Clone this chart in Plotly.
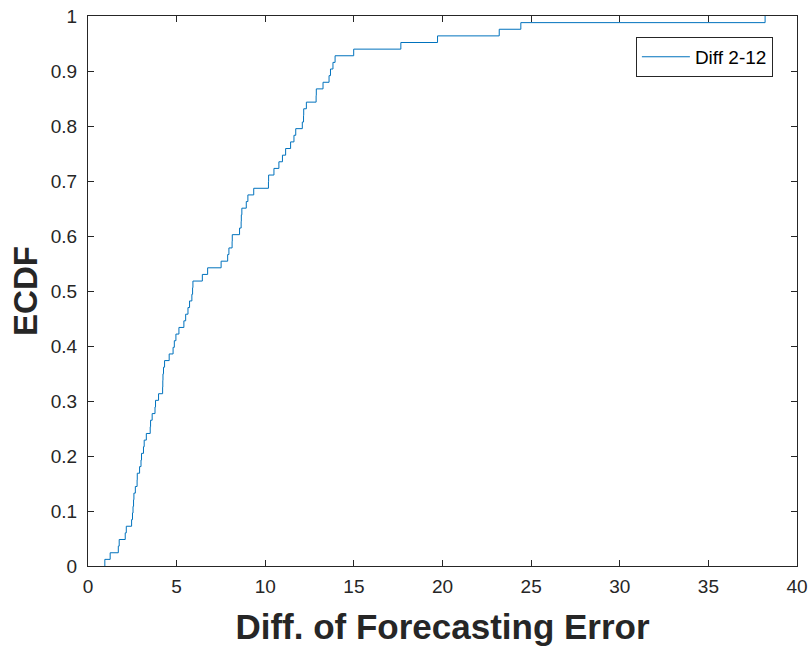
import numpy as np
import plotly.graph_objects as go

# Sorted sample values (difference of forecasting error), read from the ECDF steps
error_values = [
    0.95, 1.25, 1.71, 1.76, 2.10, 2.16, 2.46, 2.51, 2.54, 2.57,
    2.59, 2.67, 2.77, 2.78, 2.91, 2.99, 3.02, 3.13, 3.17, 3.29,
    3.51, 3.53, 3.62, 3.78, 3.81, 3.98, 4.21, 4.22, 4.23, 4.26,
    4.32, 4.58, 4.80, 4.87, 4.96, 5.13, 5.41, 5.51, 5.64, 5.73,
    5.86, 5.90, 5.92, 6.45, 6.75, 7.51, 7.88, 7.95, 8.13, 8.14,
    8.55, 8.64, 8.65, 8.68, 8.93, 9.02, 9.35, 10.18, 10.19, 10.49,
    10.77, 10.97, 11.15, 11.43, 11.62, 11.72, 12.09, 12.16, 12.17, 12.32,
    12.87, 12.88, 13.26, 13.60, 13.68, 13.82, 13.94, 14.99, 17.65, 19.72,
    23.20, 24.42, 38.20,
]
x_ticks = [0, 5, 10, 15, 20, 25, 30, 35, 40]
y_ticks = [0, 0.1, 0.2, 0.3, 0.4, 0.5, 0.6, 0.7, 0.8, 0.9, 1]
y_tick_labels = ["0", "0.1", "0.2", "0.3", "0.4", "0.5", "0.6", "0.7", "0.8", "0.9", "1"]
series_name = "Diff 2-12"

vals = np.sort(np.array(error_values))
n = len(vals)
ecdf = np.arange(1, n + 1) / n
xs = np.concatenate([[vals[0]], vals])
ys = np.concatenate([[0.0], ecdf])

font_family = "Arial, Liberation Sans, Helvetica, sans-serif"
axis_color = "#262626"

fig = go.Figure()
fig.add_trace(go.Scatter(
    x=xs, y=ys, mode="lines", name=series_name,
    line=dict(color="#0072BD", width=1, shape="hv"),
    showlegend=True,
))

common_axis = dict(
    showline=True, linecolor=axis_color, linewidth=1, mirror="ticks",
    ticks="inside", ticklen=6, tickcolor=axis_color, tickwidth=1,
    showgrid=False, zeroline=False, automargin=False,
    ticklabeloverflow="allow",
    tickfont=dict(family=font_family, size=19, color=axis_color),
)

fig.update_xaxes(
    range=[0, 40], tickvals=x_ticks, ticklabelstandoff=3,
    title=dict(text="<b>Diff. of Forecasting Error</b>",
               font=dict(family=font_family, size=35, color=axis_color), standoff=18),
    **common_axis,
)
fig.update_yaxes(
    range=[0, 1], tickvals=y_ticks, ticktext=y_tick_labels, ticklabelstandoff=6,
    title=dict(text="<b>ECDF</b>",
               font=dict(family=font_family, size=33, color=axis_color), standoff=3),
    **common_axis,
)

fig.update_layout(
    width=808, height=648,
    margin=dict(l=88, r=11, t=16, b=82),
    paper_bgcolor="white", plot_bgcolor="white",
    font=dict(family=font_family, color=axis_color),
    legend=dict(
        x=0.966, y=0.962, xanchor="right", yanchor="top",
        bgcolor="white", bordercolor=axis_color, borderwidth=1,
        itemwidth=48,
        font=dict(family=font_family, size=19, color="black"),
    ),
)

fig.write_html(
    "out.html",
    config={"displayModeBar": False},
    post_script="document.body.style.margin='0';document.body.style.overflow='hidden';",
)
